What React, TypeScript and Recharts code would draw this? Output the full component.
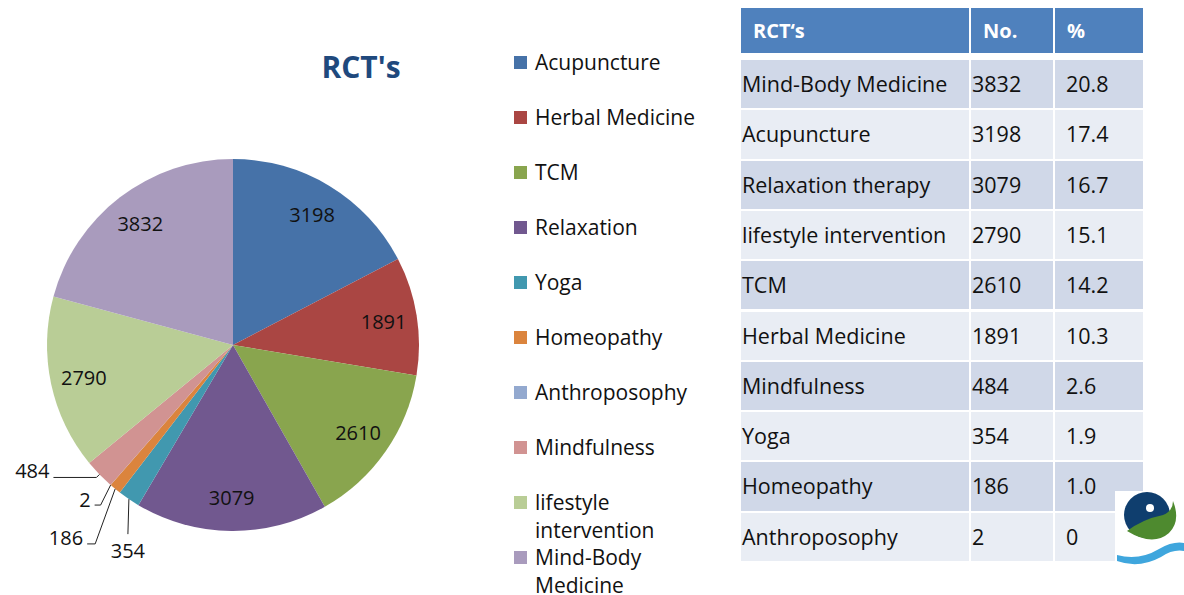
import React from 'react'
import { PieChart, Pie, Cell, Legend } from 'recharts'

const categories = [
  'Acupuncture',
  'Herbal Medicine',
  'TCM',
  'Relaxation',
  'Yoga',
  'Homeopathy',
  'Anthroposophy',
  'Mindfulness',
  'lifestyle intervention',
  'Mind-Body Medicine',
]
const counts = [3198, 1891, 2610, 3079, 354, 186, 2, 484, 2790, 3832]
const colors = [
  '#4672A8',
  '#AA4643',
  '#89A54E',
  '#71588F',
  '#4198AF',
  '#DB843D',
  '#93A9CF',
  '#D19392',
  '#B9CD96',
  '#A99BBD',
]

const tableHeaders = ['RCT‘s', 'No.', '%']
const tableLabels = [
  'Mind-Body Medicine',
  'Acupuncture',
  'Relaxation therapy',
  'lifestyle intervention',
  'TCM',
  'Herbal Medicine',
  'Mindfulness',
  'Yoga',
  'Homeopathy',
  'Anthroposophy',
]
const tableCounts = [3832, 3198, 3079, 2790, 2610, 1891, 484, 354, 186, 2]
const tablePercents = ['20.8', '17.4', '16.7', '15.1', '14.2', '10.3', '2.6', '1.9', '1.0', '0']

const pieData = categories.map((name, i) => ({ name, value: counts[i] }))

const FONT = '"Open Sans", "Noto Sans", sans-serif'
const RAD = Math.PI / 180

// leader-line callouts for the thin slices (offsets from the slice's outer edge)
const callouts: Record<string, { pts: [number, number][]; text: [number, number]; anchor: string }> = {
  Mindfulness: { pts: [[-3, 3], [-46, 3]], text: [-50, -4], anchor: 'end' },
  Anthroposophy: { pts: [[-10, 20], [-16, 20]], text: [-20, 14], anchor: 'end' },
  Homeopathy: { pts: [[-20, 55], [-28, 55]], text: [-32, 49], anchor: 'end' },
  Yoga: { pts: [[-1, 35]], text: [-1, 51], anchor: 'middle' },
}

function renderLabel(props: any) {
  const { cx, cy, midAngle, outerRadius, value, name } = props
  const c = callouts[name]
  if (c) {
    const ex = cx + outerRadius * Math.cos(-midAngle * RAD)
    const ey = cy + outerRadius * Math.sin(-midAngle * RAD)
    const pts = [[ex, ey], ...c.pts.map(([dx, dy]) => [ex + dx, ey + dy])]
    return (
      <g>
        <polyline points={pts.map((p) => p.join(',')).join(' ')} fill="none" stroke="#222" strokeWidth={1} />
        <text
          x={ex + c.text[0]}
          y={ey + c.text[1]}
          textAnchor={c.anchor as any}
          dominantBaseline="central"
          fontSize={20}
          fontFamily={FONT}
          fill="#111"
        >
          {value}
        </text>
      </g>
    )
  }
  const r = outerRadius * 0.82
  const x = cx + r * Math.cos(-midAngle * RAD)
  const y = cy + r * Math.sin(-midAngle * RAD)
  return (
    <text x={x} y={y} textAnchor="middle" dominantBaseline="central" fontSize={20} fontFamily={FONT} fill="#111">
      {value}
    </text>
  )
}

function LegendContent(props: any) {
  // keep the slice order, not the alphabetical one
  const items = [...(props.payload || [])].sort(
    (a: any, b: any) => categories.indexOf(a.value) - categories.indexOf(b.value)
  )
  return (
    <div style={{ fontFamily: FONT, fontSize: 21, color: '#111' }}>
      {items.map((entry: any, i: number) => (
        <div key={i} style={{ display: 'flex', alignItems: 'flex-start', height: 55 }}>
          <div
            style={{
              width: 13,
              height: 13,
              marginTop: 8,
              marginRight: 8,
              background: entry.color,
              flexShrink: 0,
            }}
          />
          <div style={{ lineHeight: '28px', width: 170 }}>{entry.value}</div>
        </div>
      ))}
    </div>
  )
}

function Logo() {
  return (
    <svg width={69} height={80} style={{ position: 'absolute', left: 1115, top: 491, background: '#fff' }}>
      <circle cx={32} cy={24} r={23} fill="#0F3E6E" />
      <path d="M 12 40 Q 28 28 48 24 Q 58 20 58 10 Q 66 30 54 42 Q 38 56 12 40 Z" fill="#4E8A2F" />
      <circle cx={35} cy={17} r={4} fill="#fff" />
      <path d="M 2 64 Q 24 70 44 58 Q 58 50 69 52 L 69 60 Q 58 58 46 66 Q 24 78 2 70 Z" fill="#3FA6DD" />
    </svg>
  )
}

function DataTable() {
  const colX = [741, 971, 1055]
  const colW = [228, 82, 88]
  const headerColor = '#4F81BD'
  return (
    <div style={{ position: 'absolute', left: 0, top: 0, fontFamily: FONT, fontSize: 21.5 }}>
      {tableHeaders.map((h, j) => (
        <div
          key={h}
          style={{
            position: 'absolute',
            left: colX[j],
            top: 8,
            width: colW[j],
            height: 45,
            background: headerColor,
            color: '#fff',
            fontWeight: 700,
            fontSize: 20,
            lineHeight: '45px',
            paddingLeft: 12,
            boxSizing: 'border-box',
          }}
        >
          {h}
        </div>
      ))}
      {tableLabels.map((label, i) => {
        const cells = [label, String(tableCounts[i]), tablePercents[i]]
        const bg = i % 2 === 0 ? '#D0D8E8' : '#E9EDF4'
        return cells.map((txt, j) => (
          <div
            key={`${i}-${j}`}
            style={{
              position: 'absolute',
              left: colX[j],
              top: 60 + i * 50.3,
              width: colW[j],
              height: 48.3,
              background: bg,
              color: '#111',
              lineHeight: '48px',
              paddingLeft: j === 2 ? 11 : 1,
              boxSizing: 'border-box',
              whiteSpace: 'nowrap',
            }}
          >
            {txt}
          </div>
        ))
      })}
    </div>
  )
}

export default function App() {
  return (
    <div style={{ position: 'absolute', left: 0, top: 0, width: 1184, height: 595, background: '#fff', overflow: 'hidden' }}>
      <PieChart width={730} height={595} margin={{ top: 0, right: 0, bottom: 0, left: 0 }}>
        <text
          x={361}
          y={66}
          textAnchor="middle"
          dominantBaseline="central"
          fontSize={30}
          fontWeight={700}
          fontFamily={FONT}
          fill="#1F497D"
        >
          RCT's
        </text>
        <Pie
          data={pieData}
          dataKey="value"
          nameKey="name"
          cx={233}
          cy={345}
          outerRadius={186}
          startAngle={90}
          endAngle={-270}
          stroke="none"
          label={renderLabel}
          labelLine={false}
          isAnimationActive={false}
        >
          {pieData.map((d, i) => (
            <Cell key={d.name} fill={colors[i]} />
          ))}
        </Pie>
        <Legend
          layout="vertical"
          align="center"
          verticalAlign="middle"
          content={<LegendContent />}
          wrapperStyle={{ left: 514, top: 48, width: 210 }}
        />
      </PieChart>
      <DataTable />
      <Logo />
    </div>
  )
}
